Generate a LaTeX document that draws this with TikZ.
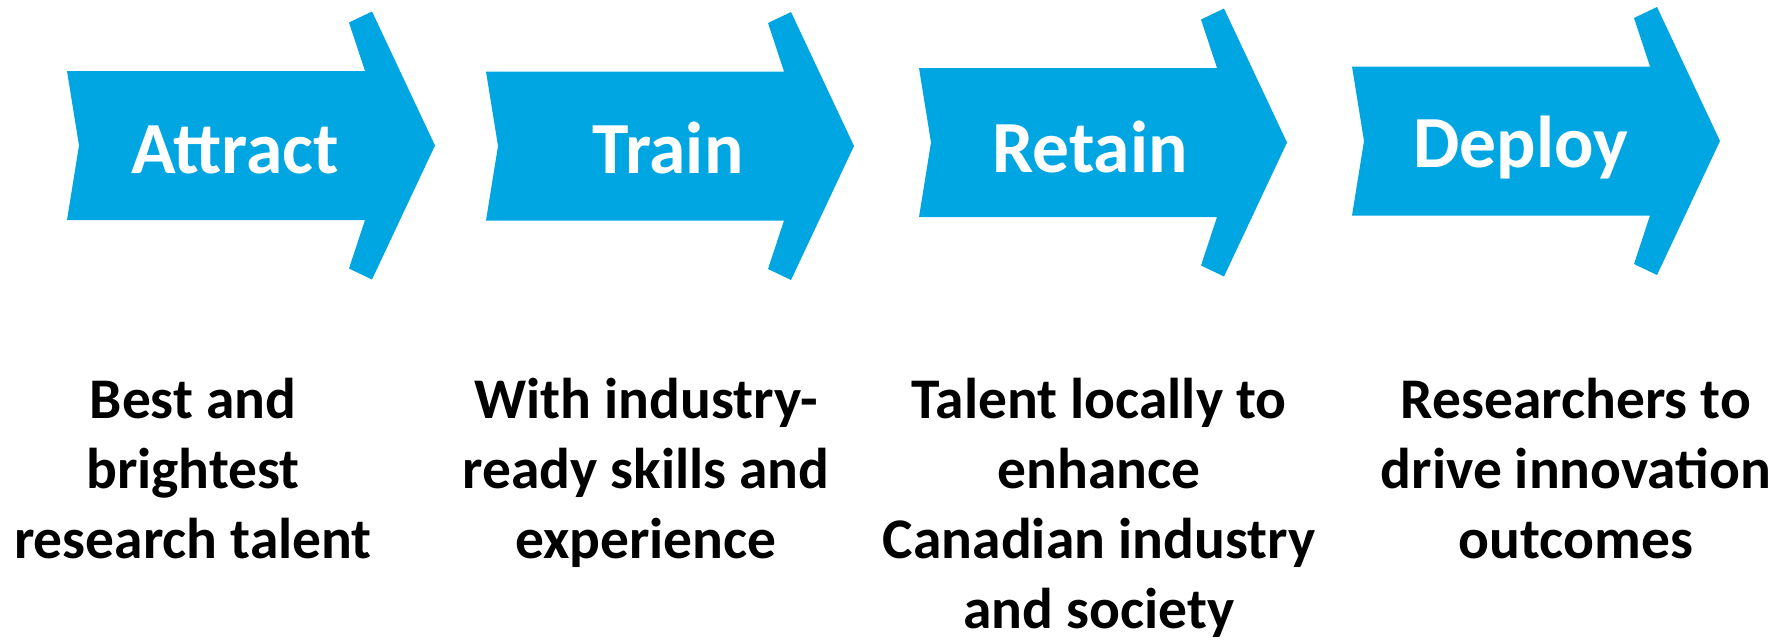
\documentclass[tikz,border=0pt]{standalone}
\usepackage{fontspec}
\setmainfont{Carlito}
\definecolor{arrowblue}{RGB}{0,166,226}
\newcommand{\firstline}{\rule{0pt}{50pt}}
\tikzset{
  x=1pt, y=-1pt,
  pics/bigarrow/.style={code={
    \fill[arrowblue] (0,-74.5) -- (298,-74.5) -- (282,-123) -- (305,-134) -- (368,0)
      -- (305,134) -- (282,123) -- (298,74.5) -- (0,74.5) -- (12,0) -- cycle;
  }},
  arrowlabel/.style={text=white, inner sep=0pt, anchor=base, font=\bfseries\fontsize{73.5}{88}\selectfont},
  desc/.style={text=black, inner sep=0pt, anchor=north, align=center, font=\bfseries\fontsize{57.5}{70}\selectfont},
}
\begin{document}
\begin{tikzpicture}
\useasboundingbox (0,0) rectangle (1791,640);
\pic at (67,145.5) {bigarrow};
\pic at (486,146) {bigarrow};
\pic at (919,142.5) {bigarrow};
\pic at (1352,141) {bigarrow};
\node[arrowlabel] (attract) at (235,173) {Attract};
\node[arrowlabel] (train) at (668,173) {Train};
\node[arrowlabel] (retain) at (1090,172) {Retain};
\node[arrowlabel] (deploy) at (1521,167) {Deploy};
\node[desc] (d1) at (193,368) {\firstline Best and\\brightest\\research talent};
\node[desc] (d2) at (646,368) {\firstline With industry-\\ready skills and\\experience};
\node[desc] (d3) at (1099,368) {\firstline Talent locally to\\enhance\\Canadian industry\\and society};
\node[desc] (d4) at (1576,368) {\firstline Researchers to\\drive innovation\\outcomes};
\end{tikzpicture}
\end{document}
